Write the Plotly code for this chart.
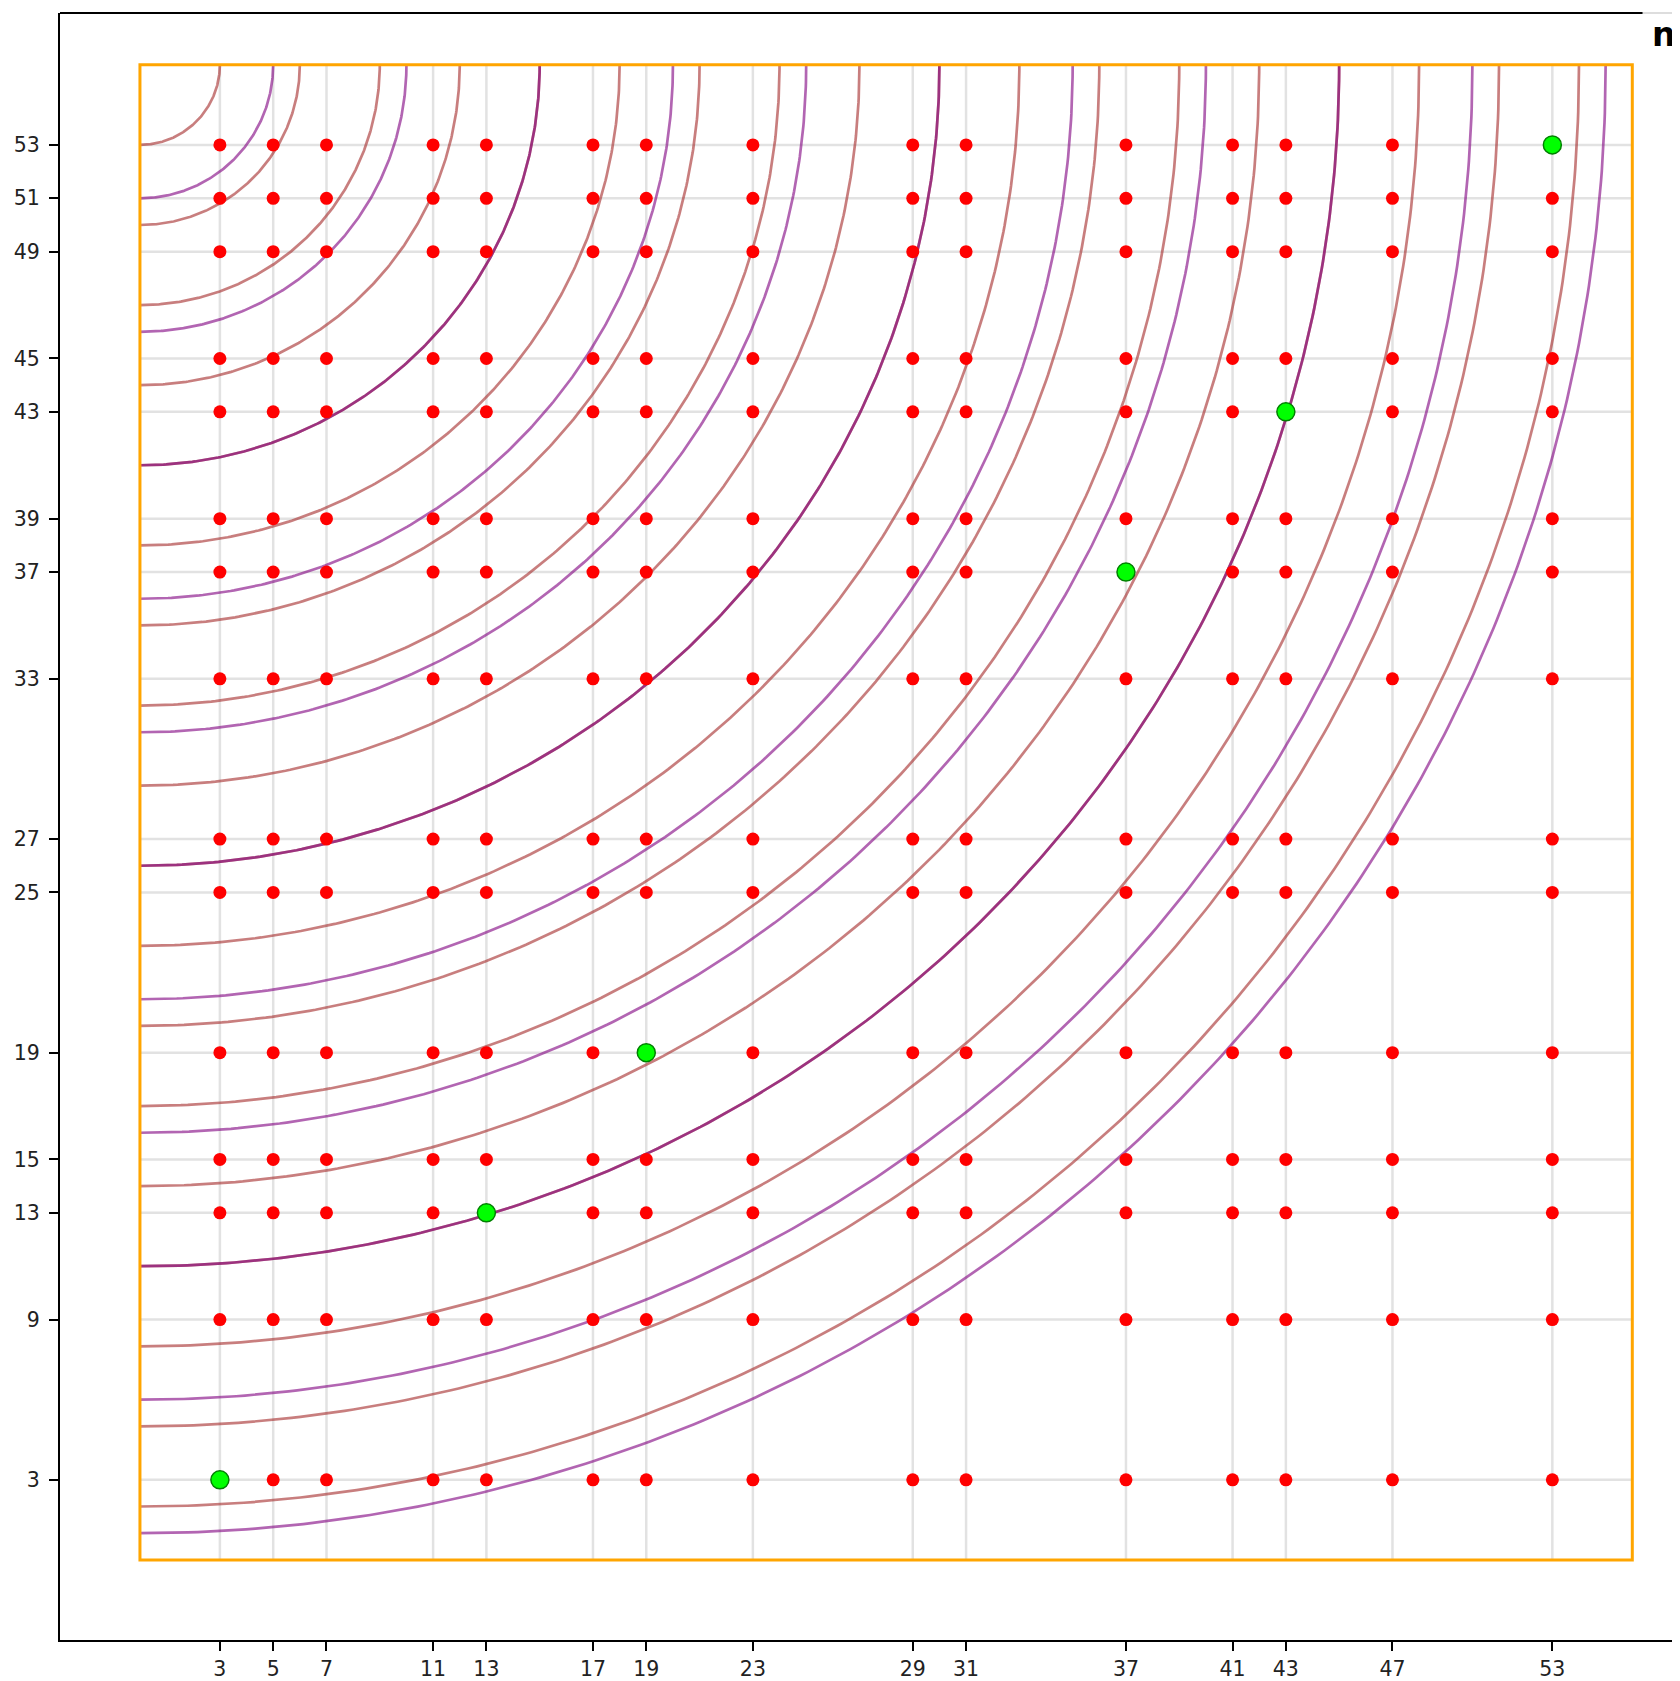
import numpy as np
import plotly.graph_objects as go

# ---- data ----
N = 56
x_primes = [3, 5, 7, 11, 13, 17, 19, 23, 29, 31, 37, 41, 43, 47, 53]
y_values = [53, 51, 49, 45, 43, 39, 37, 33, 27, 25, 19, 15, 13, 9, 3]
radii_3 = [3, 6, 9, 12, 15, 18, 21, 24, 27, 30, 33, 36, 39, 42, 45, 48, 51, 54]
radii_5 = [5, 10, 15, 20, 25, 30, 35, 40, 45, 50, 55]
green_vals = [3, 13, 19, 37, 43, 53]

BROWN = "rgb(165,42,42)"
PURPLE = "rgb(128,0,128)"

fig = go.Figure()

# gridlines (inside the box)
gx, gy = [], []
for xv in x_primes:
    gx += [xv, xv, None]
    gy += [0, N, None]
for yv in y_values:
    gx += [0, N, None]
    gy += [yv, yv, None]
fig.add_trace(go.Scatter(x=gx, y=gy, mode="lines",
                         line=dict(color="#e2e2e2", width=2.5),
                         hoverinfo="skip", showlegend=False))

# orange box
fig.add_shape(type="rect", x0=0, y0=0, x1=N, y1=N,
              line=dict(color="orange", width=3), layer="above")

# arcs centred at (0, N)
theta = np.linspace(0, np.pi / 2, 240)
def add_arcs(radii, color):
    for r in radii:
        fig.add_trace(go.Scatter(
            x=r * np.sin(theta), y=N - r * np.cos(theta), mode="lines",
            line=dict(color=color, width=2.7), opacity=0.6,
            hoverinfo="skip", showlegend=False))
add_arcs(radii_3, BROWN)
add_arcs(radii_5, PURPLE)

# red grid points
rx, ry = [], []
for xv in x_primes:
    for yv in y_values:
        if xv != yv:
            rx.append(xv)
            ry.append(yv)
fig.add_trace(go.Scatter(x=rx, y=ry, mode="markers",
                         marker=dict(color="red", size=13, line=dict(width=0)),
                         showlegend=False))

# green points
fig.add_trace(go.Scatter(x=green_vals, y=green_vals, mode="markers",
                         marker=dict(color="lime", size=18,
                                     line=dict(color="green", width=1.5)),
                         showlegend=False))

# top spine (partial) and clipped title
fig.add_shape(type="line", xref="paper", yref="paper", x0=0, x1=0.977, y0=1, y1=1,
              line=dict(color="black", width=2))
fig.add_shape(type="line", xref="paper", yref="paper", x0=0.977, x1=1.0, y0=1, y1=1,
              line=dict(color="#dddddd", width=2))
fig.add_annotation(text="<b>n</b>", xref="paper", yref="paper", x=0.9815, y=0.9865,
                   xanchor="left", yanchor="middle", showarrow=False,
                   font=dict(family="DejaVu Sans", size=33, color="black"))

axis_common = dict(showgrid=False, zeroline=False, showline=True, linecolor="black",
                   linewidth=2, ticks="outside", ticklen=9, tickwidth=2,
                   tickcolor="black", mirror=False, automargin=False,
                   tickfont=dict(family="DejaVu Sans", size=20.5, color="#222"))

fig.update_layout(
    width=1672, height=1673,
    margin=dict(l=52, r=0, t=5, b=41, pad=0),
    plot_bgcolor="white", paper_bgcolor="white",
    xaxis=dict(range=[-3, 57.79], tickmode="array", tickvals=x_primes,
               ticktext=[str(v) for v in x_primes], **axis_common),
    yaxis=dict(range=[-3, 57.94], tickmode="array", tickvals=y_values,
               ticktext=[str(v) for v in y_values], ticklabelstandoff=5,
               **axis_common),
)

fig.write_html("out.html")
